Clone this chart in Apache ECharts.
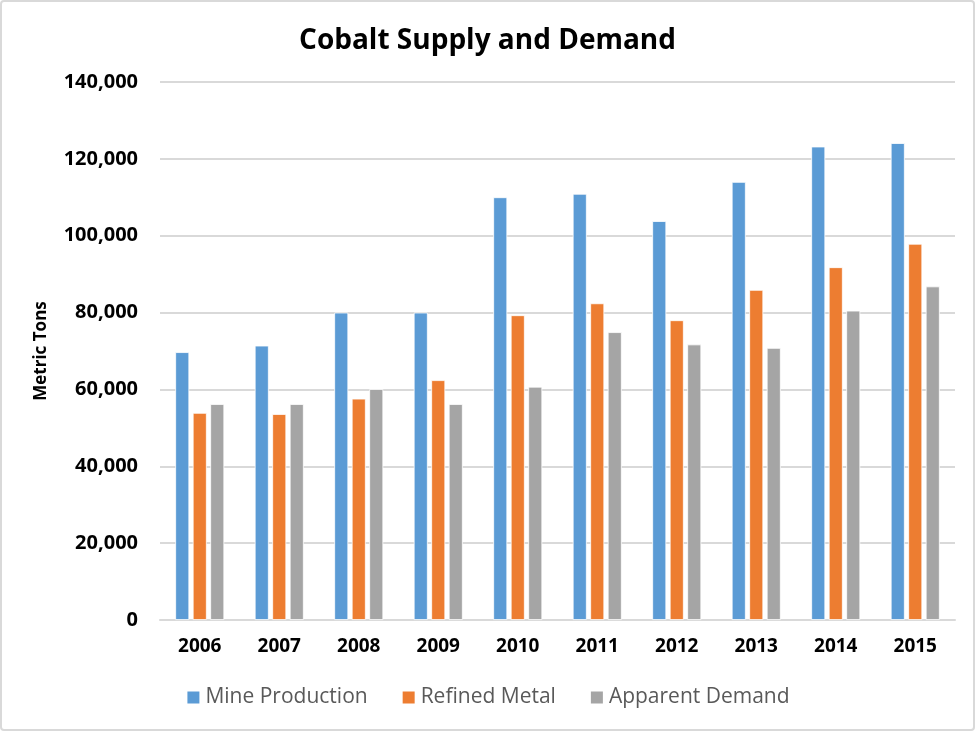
<!DOCTYPE html>
<html>
<head>
<meta charset="utf-8">
<script src="https://cdn.jsdelivr.net/npm/echarts@6/dist/echarts.min.js"></script>
<style>
  html, body { margin: 0; padding: 0; background: #fff; }
  #frame { position: absolute; left: 0; top: 0; width: 971px; height: 727px; border: 2px solid #d9d9d9; border-radius: 4px; }
  #chart { width: 971px; height: 727px; }
</style>
</head>
<body>
<div id="frame"><div id="chart"></div></div>
<script>
// Cobalt supply and demand, metric tons
const years = ['2006', '2007', '2008', '2009', '2010', '2011', '2012', '2013', '2014', '2015'];
const mineProduction = [69700, 71400, 80000, 80000, 110000, 110900, 103800, 114000, 123200, 124100];
const refinedMetal = [53900, 53600, 57600, 62400, 79300, 82400, 78000, 85900, 91800, 97900];
const apparentDemand = [56200, 56200, 60100, 56200, 60700, 74900, 71700, 70800, 80500, 86800];
const yTicks = [0, 20000, 40000, 60000, 80000, 100000, 120000, 140000];

const font = '"Open Sans", Lato, sans-serif';

const myChart = echarts.init(document.getElementById('chart'));

const bar = (name, data, color) => ({
  name: name,
  type: 'bar',
  data: data,
  barWidth: 14,
  barGap: '25%',
  itemStyle: { color: color, borderColor: '#fff', borderWidth: 0.8 }
});

myChart.setOption({
  animation: false,
  title: {
    text: 'Cobalt Supply and Demand',
    left: 'center',
    top: 20,
    textStyle: { fontFamily: font, fontSize: 28, fontWeight: 'bold', color: '#000' }
  },
  grid: { left: 158, right: 18, top: 80, bottom: 109 },
  legend: {
    bottom: 16,
    left: 'center',
    itemWidth: 14,
    itemHeight: 14,
    itemGap: 33,
    icon: 'rect',
    textStyle: { fontFamily: font, fontSize: 21, color: '#595959' },
    data: ['Mine Production', 'Refined Metal', 'Apparent Demand']
  },
  xAxis: {
    type: 'category',
    data: years,
    axisTick: { show: false },
    axisLine: { lineStyle: { color: '#d9d9d9', width: 2 } },
    axisLabel: { margin: 17, fontFamily: font, fontSize: 19, fontWeight: 'bold', color: '#000' }
  },
  yAxis: {
    type: 'value',
    min: yTicks[0],
    max: yTicks[yTicks.length - 1],
    interval: yTicks[1] - yTicks[0],
    name: 'Metric Tons',
    nameLocation: 'middle',
    nameRotate: 90,
    nameGap: 110,
    nameTextStyle: { fontFamily: font, fontSize: 17, fontWeight: 'bold', color: '#000' },
    axisLine: { show: false },
    axisTick: { show: false },
    splitLine: { lineStyle: { color: '#d9d9d9', width: 2 } },
    axisLabel: {
      margin: 22,
      fontFamily: font,
      fontSize: 20,
      fontWeight: 'bold',
      color: '#000',
      formatter: v => v.toLocaleString('en-US')
    }
  },
  series: [
    bar('Mine Production', mineProduction, '#5b9bd5'),
    bar('Refined Metal', refinedMetal, '#ed7d31'),
    bar('Apparent Demand', apparentDemand, '#a5a5a5')
  ]
});
</script>
</body>
</html>
